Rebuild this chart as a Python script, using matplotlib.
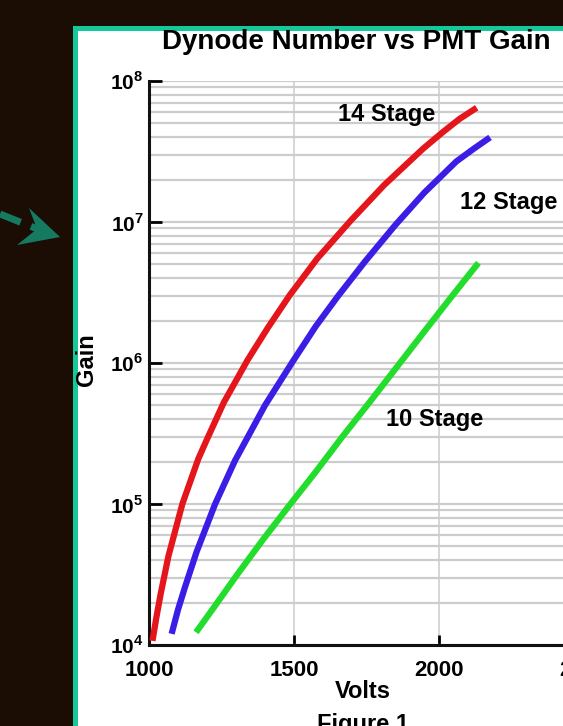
import matplotlib
matplotlib.use("Agg")
import matplotlib.pyplot as plt
from matplotlib.patches import Rectangle, Polygon
from matplotlib.lines import Line2D
from matplotlib.ticker import LogLocator, FixedLocator, NullFormatter

plt.rcParams['font.family'] = ['Liberation Sans', 'DejaVu Sans']
plt.rcParams['font.weight'] = 'bold'
plt.rcParams['mathtext.fontset'] = 'custom'
plt.rcParams['mathtext.rm'] = 'Liberation Sans:bold'
plt.rcParams['mathtext.bf'] = 'Liberation Sans:bold'

# data
volts_14 = [1012, 1025, 1040, 1067, 1115, 1170, 1200, 1258, 1340, 1410, 1485,
            1580, 1695, 1810, 1945, 2015, 2070, 2130]
gain_14 = [1.07e4, 1.55e4, 2.29e4, 4.27e4, 1.0e5, 2.09e5, 2.88e5, 5.25e5,
           1.05e6, 1.78e6, 3.02e6, 5.5e6, 1.02e7, 1.82e7, 3.31e7, 4.37e7, 5.37e7, 6.46e7]

volts_12 = [1078, 1100, 1124, 1164, 1228, 1297, 1400, 1495, 1575, 1650, 1745,
            1850, 1950, 2060, 2120, 2176]
gain_12 = [1.2e4, 1.78e4, 2.57e4, 4.57e4, 1.0e5, 2.04e5, 5.01e5, 1.02e6,
           1.82e6, 2.95e6, 5.25e6, 9.55e6, 1.62e7, 2.69e7, 3.31e7, 3.98e7]

volts_10 = [1162, 1228, 1308, 1394, 1480, 1572, 1664, 1760, 1854, 1952, 2043, 2136]
gain_10 = [1.23e4, 1.9e4, 3.24e4, 5.62e4, 9.55e4, 1.66e5, 2.95e5, 5.25e5,
           9.33e5, 1.7e6, 2.95e6, 5.13e6]

x_ticks = [1000, 1500, 2000, 2500]
y_ticks = [1e4, 1e5, 1e6, 1e7, 1e8]
y_tick_labels = [r'$10^{4}$', r'$10^{5}$', r'$10^{6}$', r'$10^{7}$', r'$10^{8}$']

W, H = 563, 726
fig = plt.figure(figsize=(W / 100, H / 100), dpi=100)
fig.patch.set_facecolor('#1b0d04')

def fx(px):
    return px / W

def fy(py):
    return 1 - py / H

# white panel with teal border
panel = Rectangle((fx(74.5), -0.2), 1.5, fy(27.5) + 0.2, transform=fig.transFigure,
                  facecolor='white', edgecolor='#14c89a', linewidth=3.6, zorder=-5)
fig.patches.append(panel)

# dashed arrow on the left
fig.add_artist(Line2D([fx(0), fx(40)], [fy(214), fy(230)], transform=fig.transFigure,
                      color='#167a60', linewidth=5, linestyle=(0, (3.2, 1.6))))
fig.add_artist(Polygon([(fx(29), fy(208)), (fx(60), fy(237)), (fx(17), fy(245)), (fx(37), fy(229))],
                       closed=True, transform=fig.transFigure, facecolor='#167a60', edgecolor='none'))

ax = fig.add_axes([fx(149), 1 - 645 / H, 435 / W, (645 - 81) / H])
ax.set_facecolor('white')
ax.set_yscale('log')
ax.set_xlim(1000, 2500)
ax.set_ylim(1e4, 1e8)

line_kw = dict(linewidth=4.5, solid_capstyle='butt', solid_joinstyle='round', zorder=3)
ax.plot(volts_14, gain_14, color='#e4161c', **line_kw)
ax.plot(volts_12, gain_12, color='#3a1ee6', **line_kw)
ax.plot(volts_10, gain_10, color='#22dd2c', **line_kw)

ax.xaxis.set_major_locator(FixedLocator(x_ticks))
ax.set_xticklabels([str(v) for v in x_ticks])
ax.yaxis.set_major_locator(FixedLocator(y_ticks))
ax.set_yticklabels(y_tick_labels)
ax.yaxis.set_minor_locator(LogLocator(base=10, subs=range(2, 10)))
ax.yaxis.set_minor_formatter(NullFormatter())

ax.grid(True, which='major', axis='x', color='#cfcfcf', linewidth=1.2)
ax.grid(True, which='both', axis='y', color='#cccccc', linewidth=1.6)
ax.set_axisbelow(True)

for s in ['top', 'right']:
    ax.spines[s].set_visible(False)
for s in ['left', 'bottom']:
    ax.spines[s].set_linewidth(2.2)
    ax.spines[s].set_color('#111111')

ax.tick_params(axis='x', which='major', direction='in', length=7, width=2, pad=11, labelsize=16)
ax.tick_params(axis='y', which='major', direction='in', length=9, width=2, pad=4, labelsize=15)
ax.tick_params(which='minor', length=0)

ax.text(1821, 10 ** 7.76, '14 Stage', fontsize=17, fontweight='bold', ha='center', va='center')
ax.text(2241, 10 ** 7.14, '12 Stage', fontsize=17, fontweight='bold', ha='center', va='center')
ax.text(1986, 10 ** 5.60, '10 Stage', fontsize=17, fontweight='bold', ha='center', va='center')

fig.text(fx(356), fy(42), 'Dynode Number vs PMT Gain', fontsize=20, fontweight='bold',
         ha='center', va='center')
fig.text(fx(87), fy(360), 'Gain', fontsize=17, fontweight='bold', rotation=90,
         ha='center', va='center')
fig.text(fx(363), fy(691), 'Volts', fontsize=17, fontweight='bold', ha='center', va='center')
fig.text(fx(363), fy(725), 'Figure 1', fontsize=17, fontweight='bold', ha='center', va='center')

fig.savefig('out.png', dpi=100, facecolor=fig.get_facecolor())
